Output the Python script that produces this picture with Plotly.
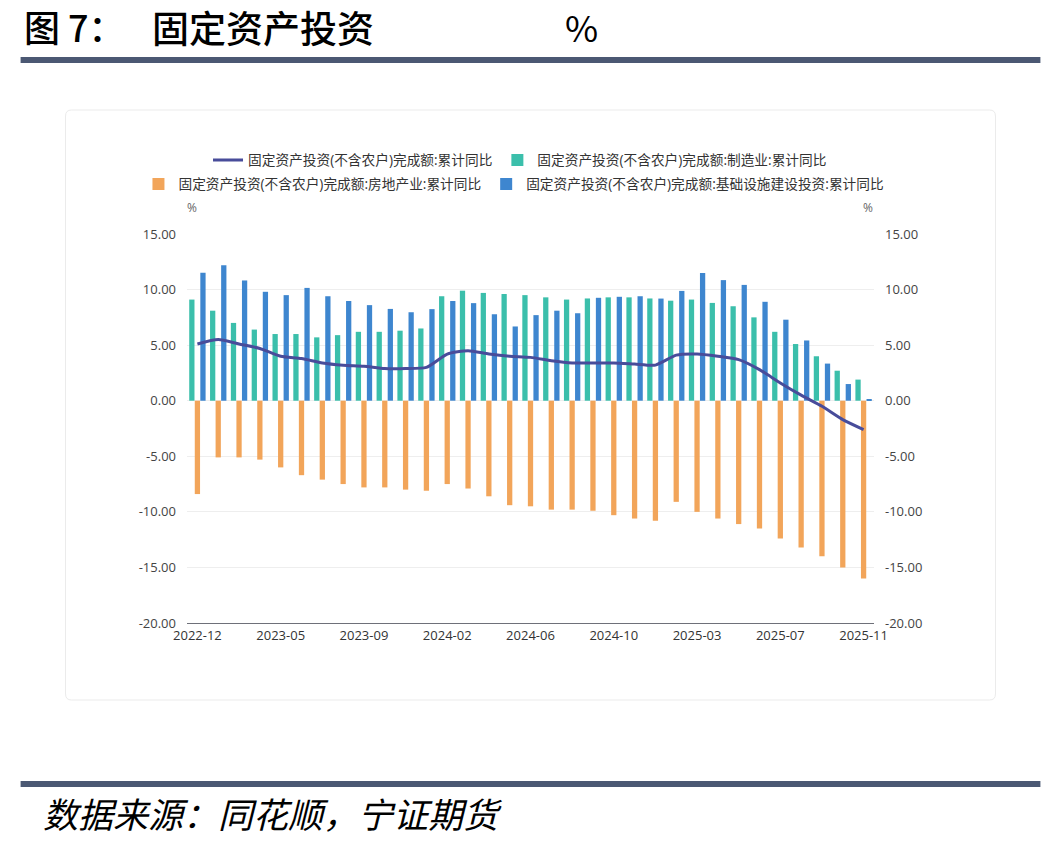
import plotly.graph_objects as go

# ---------------- data ----------------
categories = [
    "2022-12",
    "2023-02", "2023-03", "2023-04", "2023-05", "2023-06", "2023-07", "2023-08",
    "2023-09", "2023-10", "2023-11", "2023-12",
    "2024-02", "2024-03", "2024-04", "2024-05", "2024-06", "2024-07", "2024-08",
    "2024-09", "2024-10", "2024-11", "2024-12",
    "2025-02", "2025-03", "2025-04", "2025-05", "2025-06", "2025-07", "2025-08",
    "2025-09", "2025-10", "2025-11",
]
fai_total = [5.1,
             5.5, 5.1, 4.7, 4.0, 3.8, 3.4, 3.2, 3.1, 2.9, 2.9, 3.0,
             4.2, 4.5, 4.2, 4.0, 3.9, 3.6, 3.4, 3.4, 3.4, 3.3, 3.2,
             4.1, 4.2, 4.0, 3.7, 2.8, 1.6, 0.5, -0.5, -1.7, -2.6]
manufacturing = [9.1,
                 8.1, 7.0, 6.4, 6.0, 6.0, 5.7, 5.9, 6.2, 6.2, 6.3, 6.5,
                 9.4, 9.9, 9.7, 9.6, 9.5, 9.3, 9.1, 9.2, 9.3, 9.3, 9.2,
                 9.0, 9.1, 8.8, 8.5, 7.5, 6.2, 5.1, 4.0, 2.7, 1.9]
real_estate = [-8.4,
               -5.1, -5.1, -5.3, -6.0, -6.7, -7.1, -7.5, -7.8, -7.8, -8.0, -8.1,
               -7.5, -7.9, -8.6, -9.4, -9.5, -9.8, -9.8, -9.9, -10.3, -10.6, -10.8,
               -9.1, -10.0, -10.6, -11.1, -11.5, -12.4, -13.2, -14.0, -15.0, -16.0]
infrastructure = [11.52,
                  12.18, 10.82, 9.8, 9.5, 10.15, 9.4, 8.97, 8.6, 8.26, 7.96, 8.24,
                  8.97, 8.78, 7.78, 6.68, 7.7, 8.1, 7.87, 9.26, 9.35, 9.4, 9.19,
                  9.88, 11.5, 10.85, 10.42, 8.9, 7.29, 5.42, 3.34, 1.5, 0.13]

series_names = [
    "固定资产投资(不含农户)完成额:累计同比",
    "固定资产投资(不含农户)完成额:制造业:累计同比",
    "固定资产投资(不含农户)完成额:房地产业:累计同比",
    "固定资产投资(不含农户)完成额:基础设施建设投资:累计同比",
]
y_tick_values = [15, 10, 5, 0, -5, -10, -15, -20]
y_tick_labels = ["15.00", "10.00", "5.00", "0.00", "-5.00", "-10.00", "-15.00", "-20.00"]
x_tick_labels = categories[::4]

title_prefix = "图 7："
title_main = "固定资产投资"
title_unit = "%"
source_text = "数据来源：同花顺，宁证期货"

# ---------------- layout geometry (pixels) ----------------
W, H = 1041, 845
PL, PR, PT, PB = 186.6, 874.4, 234.0, 623.0


def px2x(px):
    return (px - PL) / (PR - PL)


def py2y(py):
    return (PB - py) / (PB - PT)


TEAL = "#3bbfab"
ORANGE = "#f2a55a"
BLUE = "#3e86cf"
NAVY = "#484c9a"
FONT = "Open Sans, Noto Sans CJK SC, sans-serif"
CJK = "Noto Sans CJK SC, sans-serif"

fig = go.Figure()
fig.add_trace(go.Bar(x=categories, y=manufacturing, name=series_names[1],
                     marker=dict(color=TEAL, line=dict(width=0)), legend="legend",
                     legendrank=2))
fig.add_trace(go.Bar(x=categories, y=real_estate, name=series_names[2],
                     marker=dict(color=ORANGE, line=dict(width=0)), legend="legend2",
                     legendrank=3))
fig.add_trace(go.Bar(x=categories, y=infrastructure, name=series_names[3],
                     marker=dict(color=BLUE, line=dict(width=0)), legend="legend2",
                     legendrank=4))
fig.add_trace(go.Scatter(x=categories, y=fai_total, name=series_names[0], mode="lines",
                         line=dict(color=NAVY, width=3, shape="spline", smoothing=0.6),
                         yaxis="y2", legend="legend", legendrank=1))

# rounded card
x0, x1, y0, y1, r = 65, 996, 110, 700, 6
rx = r / (PR - PL)
ry = r / (PB - PT)
X0, X1, Y0, Y1 = px2x(x0), px2x(x1), py2y(y0), py2y(y1)
card_path = (f"M {X0+rx},{Y0} L {X1-rx},{Y0} Q {X1},{Y0} {X1},{Y0-ry} "
             f"L {X1},{Y1+ry} Q {X1},{Y1} {X1-rx},{Y1} L {X0+rx},{Y1} "
             f"Q {X0},{Y1} {X0},{Y1+ry} L {X0},{Y0-ry} Q {X0},{Y0} {X0+rx},{Y0} Z")

RULE = "#4b5873"
shapes = [
    dict(type="path", xref="paper", yref="paper", path=card_path,
         line=dict(color="#ebebeb", width=1), fillcolor="white", layer="below"),
    dict(type="rect", xref="paper", yref="paper", x0=px2x(20), x1=px2x(1041),
         y0=py2y(57), y1=py2y(63), line=dict(width=0), fillcolor=RULE),
    dict(type="rect", xref="paper", yref="paper", x0=px2x(20), x1=px2x(1041),
         y0=py2y(781), y1=py2y(787), line=dict(width=0), fillcolor=RULE),
]

annotations = [
    dict(text=title_prefix, x=px2x(21), y=py2y(26), xref="paper", yref="paper",
         xanchor="left", yanchor="middle", showarrow=False,
         font=dict(family=CJK, size=36, color="#000", weight=500)),
    dict(text=title_main, x=px2x(150), y=py2y(27), xref="paper", yref="paper",
         xanchor="left", yanchor="middle", showarrow=False,
         font=dict(family=CJK, size=37, color="#000", weight=500)),
    dict(text=title_unit, x=px2x(563), y=py2y(26), xref="paper", yref="paper",
         xanchor="left", yanchor="middle", showarrow=False,
         font=dict(family=CJK, size=36, color="#000", weight=400)),
    dict(text=source_text, x=px2x(40), y=py2y(812), xref="paper", yref="paper",
         xanchor="left", yanchor="middle", showarrow=False,
         font=dict(family=CJK, size=35, color="#000", style="italic")),
    dict(text="%", x=px2x(192), y=py2y(207), xref="paper", yref="paper",
         xanchor="center", yanchor="middle", showarrow=False,
         font=dict(family=FONT, size=12, color="#666")),
    dict(text="%", x=px2x(868), y=py2y(207), xref="paper", yref="paper",
         xanchor="center", yanchor="middle", showarrow=False,
         font=dict(family=FONT, size=12, color="#666")),
]

legend_common = dict(orientation="h", yanchor="middle",
                     bgcolor="rgba(0,0,0,0)", font=dict(family=FONT, size=13.7, color="#333"),
                     itemwidth=30, traceorder="normal")

fig.update_layout(
    width=W, height=H, autosize=False,
    margin=dict(l=PL, r=W - PR, t=PT, b=H - PB, pad=0),
    paper_bgcolor="white", plot_bgcolor="rgba(0,0,0,0)",
    barmode="group", bargap=0.2, bargroupgap=0.05,
    showlegend=True,
    legend=dict(legend_common, x=px2x(520), xanchor="center", y=py2y(160)),
    legend2=dict(legend_common, x=px2x(138), xanchor="left", y=py2y(184)),
    xaxis=dict(type="category", categoryorder="array", categoryarray=categories,
               tickvals=x_tick_labels, ticktext=x_tick_labels, tickangle=0,
               showgrid=False, showline=True, linecolor="#6e7079", linewidth=1,
               ticks="", tickfont=dict(family=FONT, size=13, color="#333"),
               zeroline=False),
    yaxis=dict(range=[-20, 15], tickvals=y_tick_values, ticktext=y_tick_labels,
               showgrid=True, gridcolor="#eeeeee", gridwidth=1, zeroline=False,
               showline=False, ticks="", ticklabelstandoff=10,
               tickfont=dict(family=FONT, size=13, color="#444")),
    yaxis2=dict(range=[-20, 15], tickvals=y_tick_values, ticktext=y_tick_labels,
                overlaying="y", side="right", showgrid=False, zeroline=False,
                showline=False, ticks="", ticklabelstandoff=10,
                tickfont=dict(family=FONT, size=13, color="#444")),
    shapes=shapes,
    annotations=annotations,
)

fig.write_html("out.html")
